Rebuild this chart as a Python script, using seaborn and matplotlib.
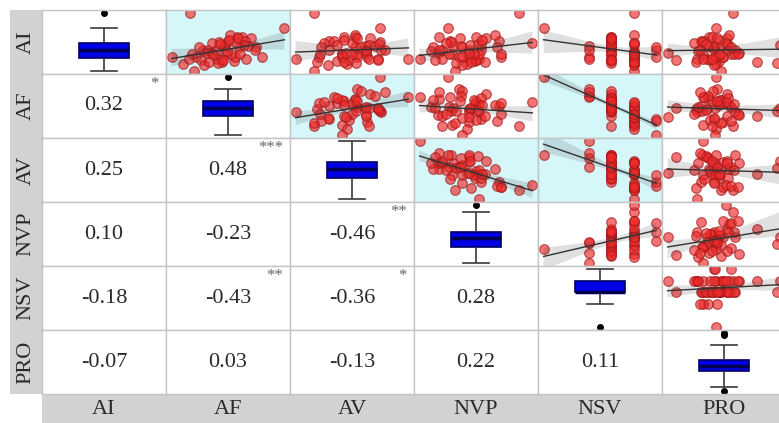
import numpy as np
import pandas as pd
import seaborn as sns
import matplotlib.pyplot as plt

# --------------------------------------
# Data
# --------------------------------------
variables = ["AI", "AF", "AV", "NVP", "NSV", "PRO"]

ai = [44, 100, 60, 26, 19, 31, 58, 22, 33, 60, 22, 43, 14, 52, 31, 38, 26, 38, 52, 21,
      62, 18, 38, 43, 46, 2, 45, 51, 25, 25, 31, 50, 30, 48, 12, 46, 36, 18, 75, 23,
      49, 15, 42, 22, 33, 55, 38, 30, 20, 58]
af = [46, 16, 62, 22, 55, 18, 70, 40, 35, 58, 44, 60, 10, 50, 48, 28, 80, 39, 65, 26,
      52, 45, 32, 75, 47, 20, 68, 42, 56, 0, 53, 36, 61, 43, 29, 64, 49, 33, 100, 15,
      57, 41, 24, 66, 31, 51, 74, 37, 46, 59]
av = [62, 22, 54, 64, 40, 44, 66, 8, 63, 46, 72, 54, 48, 34, 56, 34, 56, 75, 38, 50,
      54, 25, 63, 59, 65, 22, 70, 74, 26, 44, 52, 52, 44, 73, 33, 40, 63, 46, 74, 65,
      30, 55, 28, 96, 47, 46, 78, 27, 72, 56]
nvp = [30, 88, 17, 44, 49, 29, 59, 53, 16, 50, 44, 12, 42, 70, 26, 54, 35, 44, 27, 50,
       67, 46, 20, 38, 45, 31, 37, 28, 72, 38, 53, 23, 48, 52, 38, 54, 10, 58, 25, 20,
       100, 32, 69, 0, 44, 55, 17, 72, 14, 36]
nsv = [6, 7, 6, 7, 6, 7, 6, 7, 7, 6, 6, 6, 7, 6, 6, 8, 5, 6, 6, 7,
       7, 7, 6, 6, 7, 7, 5, 6, 7, 8, 6, 7, 6, 6, 7, 6, 7, 7, 3, 6,
       7, 6, 8, 5, 7, 6, 5, 7, 6, 6]
pro = [45, 60, 40, 52, 48, 35, 55, 30, 65, 42, 38, 50, 46, 33, 58, 44, 47, 62, 36, 41,
       57, 29, 55, 43, 100, 50, 39, 34, 52, 45, 61, 27, 49, 37, 44, 56, 31, 80, 46, 42,
       54, 97, 58, 35, 5, 48, 32, 64, 12, 47]

# lower triangle, row by row: AF/AI, AV/AI, AV/AF, NVP/AI, ...
corr_r = [0.32, 0.25, 0.48, 0.10, -0.23, -0.46, -0.18, -0.43, -0.36, 0.28,
          -0.07, 0.03, -0.13, 0.22, 0.11]
corr_stars = ["*", "", "***", "", "", "**", "", "**", "*", "",
              "", "", "", "", ""]

df = pd.DataFrame({"AI": ai, "AF": af, "AV": av, "NVP": nvp, "NSV": nsv, "PRO": pro})

# --------------------------------------
# Layout (pixel grid of the original)
# --------------------------------------
W, H = 779, 423
fig = plt.figure(figsize=(W / 100, H / 100), dpi=100)
serif = "Liberation Serif"
txt_col = "#2a2a2a"

left, top = 42, 10
cw, ch = 124, 64
n = len(variables)

# axis limits per variable
lims = {}
for v in variables:
    lo, hi = df[v].min(), df[v].max()
    pad = (hi - lo) * 0.05
    lims[v] = (lo - pad, hi + pad)

# significance lookup for upper cells
sig = {}
k = 0
for a in range(1, n):
    for b in range(a):
        sig[(b, a)] = corr_stars[k]
        k += 1

# gray label strips
strip_l = fig.add_axes([10 / W, 1 - (top + n * ch) / H, (left - 10) / W, n * ch / H])
strip_b = fig.add_axes([left / W, 0, n * cw / W, (H - top - n * ch) / H])
for s_ax in (strip_l, strip_b):
    s_ax.set_facecolor("#d2d2d2")
    s_ax.set_xticks([]); s_ax.set_yticks([])
    for s in s_ax.spines.values():
        s.set_visible(False)

for i, rv in enumerate(variables):
    fig.text(26 / W, 1 - (top + ch * (i + 0.5)) / H, rv, rotation=90, ha="center",
             va="center", fontsize=16, family=serif, color=txt_col)
    for j, cv in enumerate(variables):
        x0 = (left + j * cw) / W
        y0 = 1 - (top + (i + 1) * ch) / H
        ax = fig.add_axes([x0, y0, cw / W, ch / H])
        for s in ax.spines.values():
            s.set_color("#c4c4c4")
            s.set_linewidth(1)
        if i == j:
            sns.boxplot(y=df[rv], ax=ax, width=0.41, linewidth=1.2, saturation=1,
                        boxprops=dict(facecolor="#0000e6", edgecolor="#000060"),
                        medianprops=dict(color="#000050", linewidth=2.5),
                        whiskerprops=dict(color="#3a3a3a"),
                        capprops=dict(color="#3a3a3a"),
                        flierprops=dict(marker="o", markerfacecolor="black",
                                        markeredgecolor="black", markersize=4))
            ax.set_xlim(-0.5, 0.5)
            ax.set_ylim(*lims[rv])
        elif j > i:
            if sig[(i, j)]:
                ax.set_facecolor("#d6f7f9")
            sns.regplot(x=df[cv], y=df[rv], ax=ax, ci=95,
                        scatter_kws=dict(s=48, color="#ee2a2a", alpha=0.65,
                                         edgecolor="#a01818", linewidths=0.9),
                        line_kws=dict(color="#333333", linewidth=1))
            ax.set_xlim(*lims[cv])
            ax.set_ylim(*lims[rv])
        else:
            ax.set_xlim(0, 1); ax.set_ylim(0, 1)
        ax.set_xticks([]); ax.set_yticks([])
        ax.set_xlabel(""); ax.set_ylabel("")

# correlation coefficients and stars
k = 0
for i in range(1, n):
    for j in range(i):
        cx = (left + cw * (j + 0.5)) / W
        cy = 1 - (top + ch * (i + 0.5)) / H
        fig.text(cx, cy, f"{corr_r[k]:.2f}", ha="center", va="center",
                 fontsize=16, family=serif, color=txt_col)
        if corr_stars[k]:
            fig.text((left + cw * (j + 1) - 7) / W, 1 - (top + ch * i + 2) / H,
                     corr_stars[k], ha="right", va="top", fontsize=12,
                     family=serif, color="#666666")
        k += 1

# column labels
for j, cv in enumerate(variables):
    fig.text((left + cw * (j + 0.5)) / W, 1 - (top + n * ch + 15) / H, cv,
             ha="center", va="center", fontsize=16, family=serif, color=txt_col)

plt.savefig("out.png", dpi=100)
